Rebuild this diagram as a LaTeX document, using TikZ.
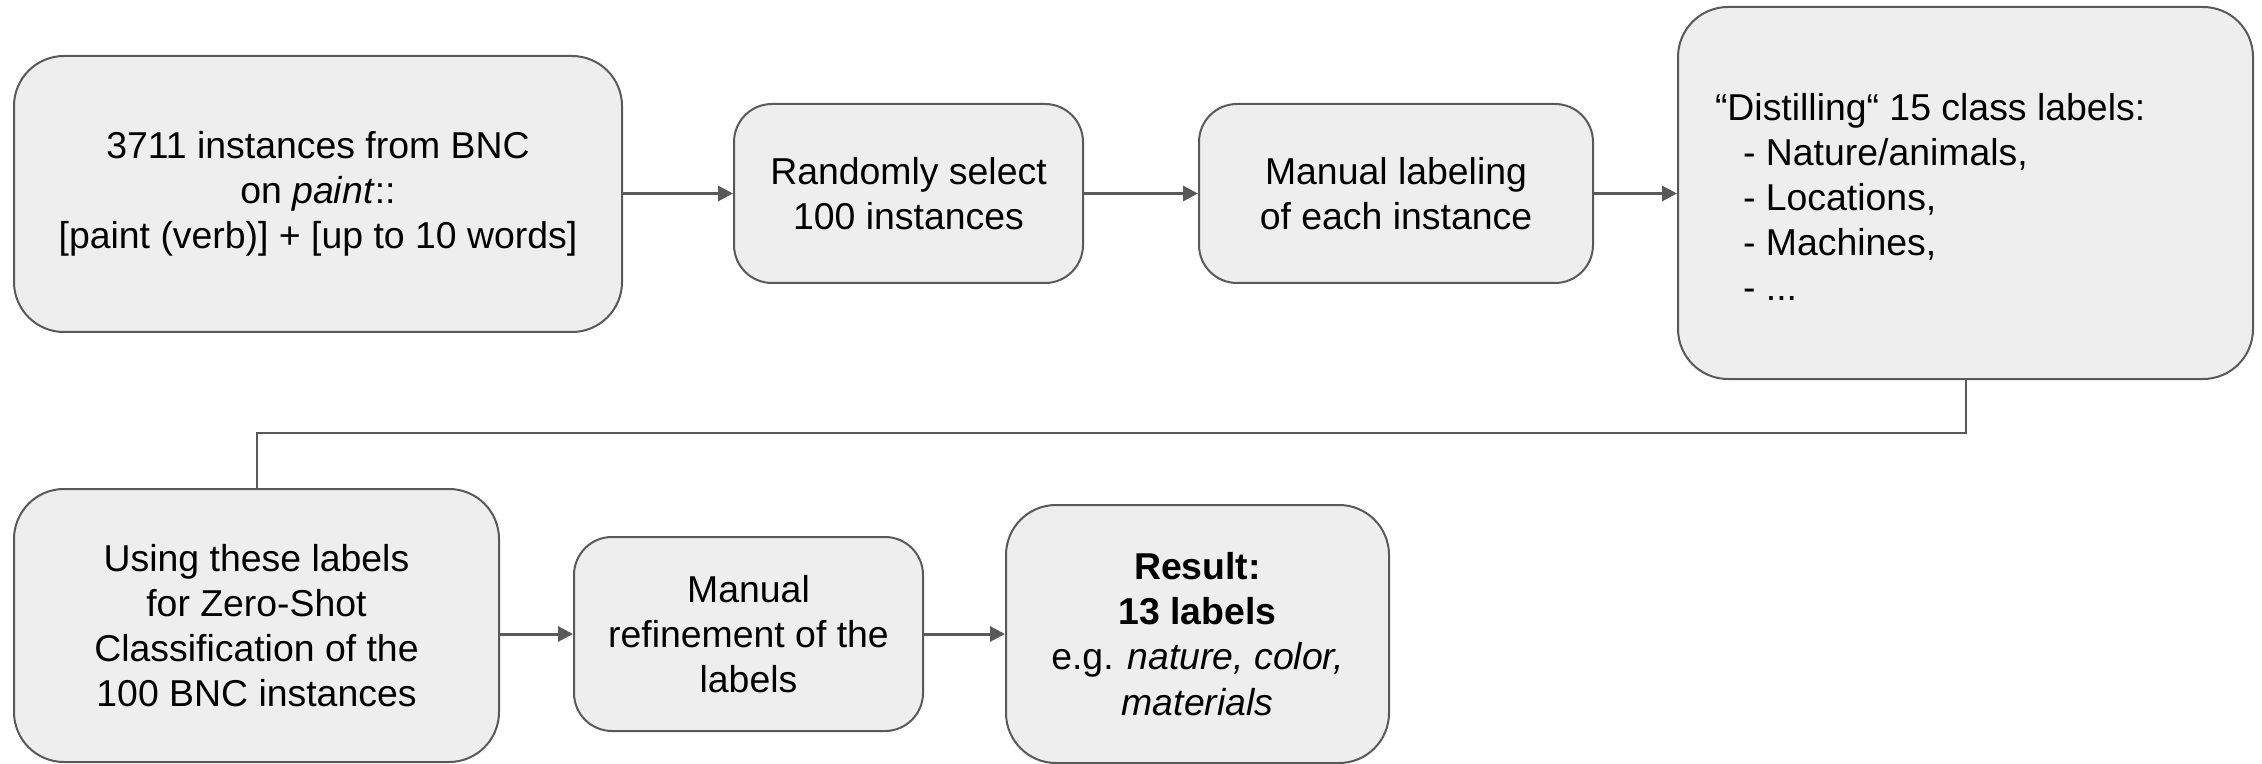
\documentclass[tikz,border=0pt]{standalone}
\usepackage{fontspec}
\setmainfont{Liberation Sans}
\usetikzlibrary{arrows.meta}
\definecolor{boxfill}{HTML}{EEEEEE}
\definecolor{edge}{HTML}{595959}
\tikzset{
  stepbox/.style={draw=edge, line width=1pt, fill=boxfill, inner sep=0pt,
    align=center, font=\fontsize{18.7}{22.6}\selectfont},
  bigbox/.style={stepbox, rounded corners=25pt},
  smallbox/.style={stepbox, rounded corners=19pt},
  flow/.style={draw=edge, line width=1.5pt, -{Triangle[length=7.5pt,width=7.5pt]}},
  link/.style={draw=edge, line width=1pt}
}
\begin{document}
\begin{tikzpicture}[x=0.5pt, y=-0.5pt]
\useasboundingbox (0,0) rectangle (2262,764);

% top row
\node[bigbox, minimum width=304pt, minimum height=138pt] (b1) at (318,194)
  {3711 instances from BNC\\on \textit{paint}::\\{}[paint (verb)] + [up to 10 words]};
\node[smallbox, minimum width=174.5pt, minimum height=89.5pt] (b2) at (908.5,193.5)
  {Randomly select\\100 instances};
\node[smallbox, minimum width=197pt, minimum height=89.5pt] (b3) at (1396,193.5)
  {Manual labeling\\of each instance};
\node[bigbox, minimum width=287.5pt, minimum height=186pt] (b4) at (1965.5,193) {};
\node[stepbox, draw=none, fill=none, align=left, anchor=west] (b4t) at (1714,197)
  {“Distilling“ 15 class labels:\\
   \hspace*{0.75em}- Nature/animals,\\
   \hspace*{0.75em}- Locations,\\
   \hspace*{0.75em}- Machines,\\
   \hspace*{0.75em}- ...};

% bottom row
\node[bigbox, minimum width=242.5pt, minimum height=136.5pt] (b5) at (256.5,625.5)
  {Using these labels\\for Zero-Shot\\Classification of the\\100 BNC instances};
\node[smallbox, minimum width=174.5pt, minimum height=97pt] (b6) at (748.5,634)
  {Manual\\refinement of the\\labels};
\node[bigbox, minimum width=191.5pt, minimum height=129pt] (b7) at (1197.5,634)
  {\textbf{Result:}\\\textbf{13 labels}\\e.g. \textit{nature, color,}\\\textit{materials}};

% connectors
\draw[flow] (b1.east |- b2.west) -- (b2.west);
\draw[flow] (b2.east) -- (b3.west);
\draw[flow] (b3.east) -- (b4.west |- b3.east);
\coordinate (turn) at (0,433);
\draw[link] (b4.south) -- (b4.south |- turn) -- (b5.north |- turn) -- (b5.north);
\draw[flow] (b5.east |- b6.west) -- (b6.west);
\draw[flow] (b6.east) -- (b7.west |- b6.east);
\end{tikzpicture}
\end{document}
